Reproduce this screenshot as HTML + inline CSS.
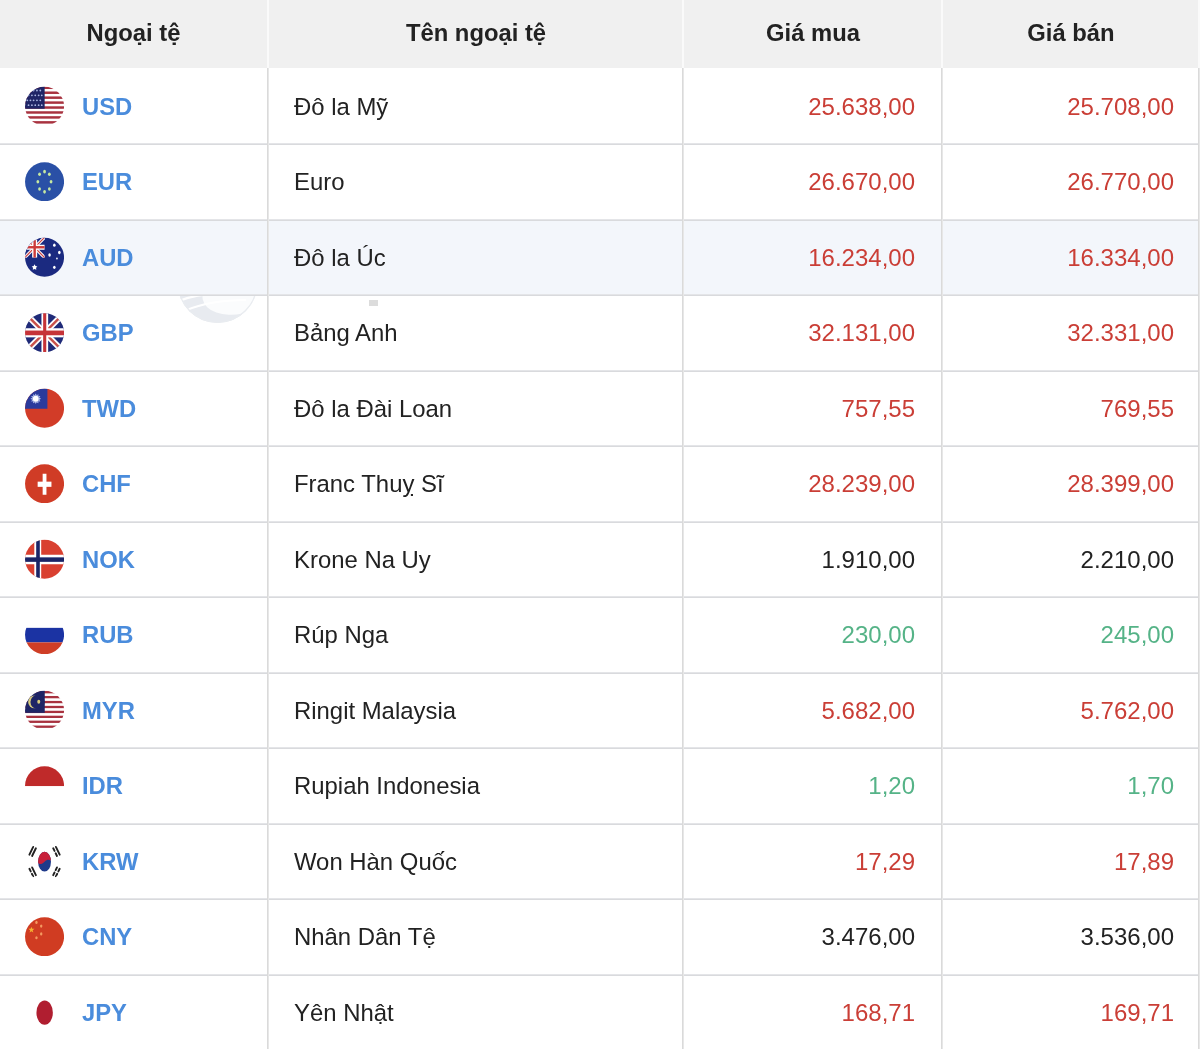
<!DOCTYPE html><html><head><meta charset="utf-8"><style>
*{margin:0;padding:0;box-sizing:border-box}
.wc{will-change:transform}
html,body{width:1200px;height:1049px;overflow:hidden;background:#fff;font-family:"Liberation Sans",sans-serif}
.hd{position:absolute;left:0;top:0;width:1200px;height:68px;background:#f0f0f0}
.ht{position:absolute;top:-1px;height:68px;line-height:68px;text-align:center;font-weight:bold;font-size:23.8px;color:#222}
.row{position:absolute;left:0;width:1200px}
.vl{position:absolute;width:2px;background:linear-gradient(90deg,#dadada 0,#dadada 50%,#e7e7e7 50%,#e7e7e7 100%)}
.vh{position:absolute;width:2px;background:#fafafa;top:0;height:68px}
.hl{position:absolute;left:0;width:1198px;height:2px;background:linear-gradient(#e4e5e8 0,#e4e5e8 50%,#d9dadd 50%,#d9dadd 100%)}
.code{position:absolute;left:82px;font-weight:bold;font-size:23.8px;color:#4a8cdc;white-space:nowrap}
.name{position:absolute;left:294px;font-size:23.9px;color:#222;white-space:nowrap}
.p1{position:absolute;right:285px;font-size:24px;white-space:nowrap}
.p2{position:absolute;right:26px;font-size:24px;white-space:nowrap}
.r{color:#ca3e36}.k{color:#222}.g{color:#55b387}
.flag{position:absolute;left:24px;width:40px;height:40px}
</style></head><body>
<div class="wc" style="position:absolute;left:0;top:0;width:1200px;height:1049px">
<div class="hd"></div>
<div class="ht" style="left:0px;width:267px">Ngoại tệ</div>
<div class="ht" style="left:269px;width:414px">Tên ngoại tệ</div>
<div class="ht" style="left:685px;width:256px">Giá mua</div>
<div class="ht" style="left:943px;width:256px">Giá bán</div>
<svg style="position:absolute;left:170px;top:240px" width="100" height="90" viewBox="170 240 100 90"><defs><clipPath id="wm"><circle cx="217.5" cy="283" r="40"/></clipPath></defs><g clip-path="url(#wm)"><rect x="170" y="240" width="100" height="90" fill="#e8ebf0"/><ellipse cx="238" cy="292" rx="36" ry="22" fill="#fbfcfd" transform="rotate(-12 238 292)"/><path d="M176,302 Q200,292 232,294" stroke="#fff" stroke-width="2.2" fill="none"/><path d="M184,311 Q210,300 246,300" stroke="#fff" stroke-width="2.2" fill="none"/></g><circle cx="217.5" cy="283" r="39.3" fill="none" stroke="#e9ecf0" stroke-width="1.2"/></svg>
<div style="position:absolute;left:369px;top:300px;width:8.5px;height:5.5px;background:#dcdcdc"></div>
<div class="row" style="top:219.5px;height:75.5px;background:#f3f6fb"></div>
<div class="flag" style="top:86px"><svg width="40" height="40" viewBox="-0.55 -0.25 40 40"><defs><clipPath id="us"><circle cx="20" cy="20" r="19.5"/></clipPath></defs><g clip-path="url(#us)"><rect width="40" height="40" fill="#fff"/><rect x="0" y="0.30" width="40" height="2.47" fill="#a8323f"/><rect x="0" y="5.24" width="40" height="2.47" fill="#a8323f"/><rect x="0" y="10.18" width="40" height="2.47" fill="#a8323f"/><rect x="0" y="15.12" width="40" height="2.47" fill="#a8323f"/><rect x="0" y="20.06" width="40" height="2.47" fill="#a8323f"/><rect x="0" y="25.00" width="40" height="2.47" fill="#a8323f"/><rect x="0" y="29.94" width="40" height="2.47" fill="#a8323f"/><rect x="0" y="34.88" width="40" height="2.47" fill="#a8323f"/><rect x="0" y="0" width="20.1" height="22.5" fill="#1f2566"/><circle cx="2.75" cy="4.25" r="0.9" fill="#a9b4e0"/><circle cx="5.9" cy="4.25" r="0.9" fill="#a9b4e0"/><circle cx="9.04" cy="4.25" r="0.9" fill="#a9b4e0"/><circle cx="12.4" cy="4.25" r="0.9" fill="#a9b4e0"/><circle cx="15.75" cy="4.25" r="0.9" fill="#a9b4e0"/><circle cx="2.75" cy="14.1" r="0.9" fill="#a9b4e0"/><circle cx="5.9" cy="14.1" r="0.9" fill="#a9b4e0"/><circle cx="9.04" cy="14.1" r="0.9" fill="#a9b4e0"/><circle cx="12.4" cy="14.1" r="0.9" fill="#a9b4e0"/><circle cx="15.75" cy="14.1" r="0.9" fill="#a9b4e0"/><circle cx="4.0" cy="9.05" r="0.9" fill="#a9b4e0"/><circle cx="7.36" cy="9.05" r="0.9" fill="#a9b4e0"/><circle cx="10.7" cy="9.05" r="0.9" fill="#a9b4e0"/><circle cx="14.1" cy="9.05" r="0.9" fill="#a9b4e0"/><circle cx="17.2" cy="9.05" r="0.9" fill="#a9b4e0"/><circle cx="4.0" cy="18.95" r="0.9" fill="#a9b4e0"/><circle cx="7.36" cy="18.95" r="0.9" fill="#a9b4e0"/><circle cx="10.7" cy="18.95" r="0.9" fill="#a9b4e0"/><circle cx="14.1" cy="18.95" r="0.9" fill="#a9b4e0"/><circle cx="17.2" cy="18.95" r="0.9" fill="#a9b4e0"/></g></svg></div>
<div class="code" style="top:92.75px">USD</div>
<div class="name" style="top:92.75px">Đô la Mỹ</div>
<div class="p1 r" style="top:92.75px">25.638,00</div>
<div class="p2 r" style="top:92.75px">25.708,00</div>
<div class="flag" style="top:161px"><svg width="40" height="40" viewBox="-0.55 -0.75 40 40"><defs><clipPath id="eu"><circle cx="20" cy="20" r="19.5"/></clipPath></defs><g clip-path="url(#eu)"><rect width="40" height="40" fill="#2a50a6"/><ellipse cx="20" cy="9.9" rx="1.4" ry="1.8" fill="#c6e8a0"/><ellipse cx="20" cy="30.1" rx="1.4" ry="1.8" fill="#c6e8a0"/><ellipse cx="13.3" cy="20" rx="1.4" ry="1.8" fill="#c6e8a0"/><ellipse cx="26.5" cy="20" rx="1.4" ry="1.8" fill="#c6e8a0"/><ellipse cx="15" cy="12.5" rx="1.4" ry="1.8" fill="#c6e8a0"/><ellipse cx="24.8" cy="12.5" rx="1.4" ry="1.8" fill="#c6e8a0"/><ellipse cx="15" cy="27.3" rx="1.4" ry="1.8" fill="#c6e8a0"/><ellipse cx="24.8" cy="27.3" rx="1.4" ry="1.8" fill="#c6e8a0"/></g></svg></div>
<div class="code" style="top:168.25px">EUR</div>
<div class="name" style="top:168.25px">Euro</div>
<div class="p1 r" style="top:168.25px">26.670,00</div>
<div class="p2 r" style="top:168.25px">26.770,00</div>
<div class="flag" style="top:237px"><svg width="40" height="40" viewBox="-0.55 -0.25 40 40"><defs><clipPath id="au"><circle cx="20" cy="20" r="19.5"/></clipPath></defs><g clip-path="url(#au)"><rect width="40" height="40" fill="#1b2a80"/><svg x="0" y="0" width="20.2" height="20.5" viewBox="0 0 20.2 20.5"><rect width="20.2" height="20.5" fill="#1b2a80"/><line x1="0" y1="0" x2="20.2" y2="20.5" stroke="#fff" stroke-width="3.2"/><line x1="20.2" y1="0" x2="0" y2="20.5" stroke="#fff" stroke-width="3.2"/><line x1="0" y1="0" x2="20.2" y2="20.5" stroke="#cc4040" stroke-width="1.2"/><line x1="20.2" y1="0" x2="0" y2="20.5" stroke="#cc4040" stroke-width="1.2"/><rect x="7.6" y="0" width="5" height="20.5" fill="#fff"/><rect x="0" y="7.5" width="20.2" height="5" fill="#fff"/><rect x="8.9" y="0" width="2.4" height="20.5" fill="#cc3a3a"/><rect x="0" y="8.8" width="20.2" height="2.4" fill="#cc3a3a"/></svg><polygon points="10.00,27.10 10.94,28.81 12.85,29.17 11.52,30.59 11.76,32.53 10.00,31.70 8.24,32.53 8.48,30.59 7.15,29.17 9.06,28.81" fill="#fff"/><ellipse cx="29.8" cy="7.9" rx="1.26" ry="1.68" fill="#fff"/><ellipse cx="34.8" cy="15.3" rx="1.26" ry="1.68" fill="#fff"/><ellipse cx="25" cy="17.7" rx="1.26" ry="1.68" fill="#fff"/><ellipse cx="32.4" cy="21.25" rx="0.81" ry="1.08" fill="#fff"/><ellipse cx="29.8" cy="30.1" rx="1.26" ry="1.68" fill="#fff"/></g></svg></div>
<div class="code" style="top:243.75px">AUD</div>
<div class="name" style="top:243.75px">Đô la Úc</div>
<div class="p1 r" style="top:243.75px">16.234,00</div>
<div class="p2 r" style="top:243.75px">16.334,00</div>
<div class="flag" style="top:312px"><svg width="40" height="40" viewBox="-0.55 -0.75 40 40"><defs><clipPath id="gb"><circle cx="20" cy="20" r="19.5"/></clipPath></defs><g clip-path="url(#gb)"><rect width="40" height="40" fill="#1f2a78"/><line x1="0" y1="0" x2="40" y2="40" stroke="#fff" stroke-width="6"/><line x1="40" y1="0" x2="0" y2="40" stroke="#fff" stroke-width="6"/><line x1="0" y1="0" x2="40" y2="40" stroke="#c8504a" stroke-width="2.4"/><line x1="40" y1="0" x2="0" y2="40" stroke="#c8504a" stroke-width="2.4"/><rect x="16.9" y="0" width="6.7" height="40" fill="#fff"/><rect x="0" y="15.5" width="40" height="9.1" fill="#fff"/><rect x="18.6" y="0" width="3.1" height="40" fill="#c63338"/><rect x="0" y="17.8" width="40" height="4.7" fill="#c63338"/></g></svg></div>
<div class="code" style="top:319.25px">GBP</div>
<div class="name" style="top:319.25px">Bảng Anh</div>
<div class="p1 r" style="top:319.25px">32.131,00</div>
<div class="p2 r" style="top:319.25px">32.331,00</div>
<div class="flag" style="top:388px"><svg width="40" height="40" viewBox="-0.55 -0.25 40 40"><defs><clipPath id="tw"><circle cx="20" cy="20" r="19.5"/></clipPath></defs><g clip-path="url(#tw)"><rect width="40" height="40" fill="#d23c28"/><rect width="22.85" height="20.5" fill="#2a3a9c"/><polygon points="11.20,5.20 12.13,7.02 13.85,5.91 13.75,7.95 15.79,7.85 14.68,9.57 16.50,10.50 14.68,11.43 15.79,13.15 13.75,13.05 13.85,15.09 12.13,13.98 11.20,15.80 10.27,13.98 8.55,15.09 8.65,13.05 6.61,13.15 7.72,11.43 5.90,10.50 7.72,9.57 6.61,7.85 8.65,7.95 8.55,5.91 10.27,7.02" fill="#b8c4ee"/><circle cx="11.2" cy="10.5" r="3.4" fill="#8090d0"/><circle cx="11.2" cy="10.5" r="2.9" fill="#fff"/></g></svg></div>
<div class="code" style="top:394.75px">TWD</div>
<div class="name" style="top:394.75px">Đô la Đài Loan</div>
<div class="p1 r" style="top:394.75px">757,55</div>
<div class="p2 r" style="top:394.75px">769,55</div>
<div class="flag" style="top:463px"><svg width="40" height="40" viewBox="-0.55 -0.75 40 40"><defs><clipPath id="ch"><circle cx="20" cy="20" r="19.5"/></clipPath></defs><g clip-path="url(#ch)"><rect width="40" height="40" fill="#d03c26"/><rect x="18.1" y="10" width="3.8" height="21" fill="#fff"/><rect x="13.1" y="17.9" width="13.8" height="5.2" fill="#fff"/></g></svg></div>
<div class="code" style="top:470.25px">CHF</div>
<div class="name" style="top:470.25px">Franc Thuỵ Sĩ</div>
<div class="p1 r" style="top:470.25px">28.239,00</div>
<div class="p2 r" style="top:470.25px">28.399,00</div>
<div class="flag" style="top:539px"><svg width="40" height="40" viewBox="-0.55 -0.25 40 40"><defs><clipPath id="no"><circle cx="20" cy="20" r="19.5"/></clipPath></defs><g clip-path="url(#no)"><rect width="40" height="40" fill="#d94030"/><rect x="9.75" y="0" width="6.9" height="40" fill="#fff"/><rect x="0" y="15.5" width="40" height="9.5" fill="#fff"/><rect x="11.65" y="0" width="3.6" height="40" fill="#1a2466"/><rect x="0" y="18.1" width="40" height="4.5" fill="#1a2466"/></g></svg></div>
<div class="code" style="top:545.75px">NOK</div>
<div class="name" style="top:545.75px">Krone Na Uy</div>
<div class="p1 k" style="top:545.75px">1.910,00</div>
<div class="p2 k" style="top:545.75px">2.210,00</div>
<div class="flag" style="top:614px"><svg width="40" height="40" viewBox="-0.55 -0.75 40 40"><defs><clipPath id="ru"><circle cx="20" cy="20" r="19.5"/></clipPath></defs><g clip-path="url(#ru)"><rect width="40" height="40" fill="#fff"/><rect y="13.1" width="40" height="14.55" fill="#1b33a3"/><rect y="27.65" width="40" height="12.35" fill="#cf3e26"/></g></svg></div>
<div class="code" style="top:621.25px">RUB</div>
<div class="name" style="top:621.25px">Rúp Nga</div>
<div class="p1 g" style="top:621.25px">230,00</div>
<div class="p2 g" style="top:621.25px">245,00</div>
<div class="flag" style="top:690px"><svg width="40" height="40" viewBox="-0.55 -0.25 40 40"><defs><clipPath id="my"><circle cx="20" cy="20" r="19.5"/></clipPath></defs><g clip-path="url(#my)"><rect width="40" height="40" fill="#fff"/><rect x="0" y="0.80" width="40" height="2.3" fill="#a8323f"/><rect x="0" y="5.73" width="40" height="2.3" fill="#a8323f"/><rect x="0" y="10.66" width="40" height="2.3" fill="#a8323f"/><rect x="0" y="15.59" width="40" height="2.3" fill="#a8323f"/><rect x="0" y="20.52" width="40" height="2.3" fill="#a8323f"/><rect x="0" y="25.45" width="40" height="2.3" fill="#a8323f"/><rect x="0" y="30.38" width="40" height="2.3" fill="#a8323f"/><rect x="0" y="35.31" width="40" height="2.3" fill="#a8323f"/><rect x="0" y="0" width="20.2" height="22.6" fill="#1f2566"/><circle cx="10" cy="11.65" r="6.45" fill="#d8cc80"/><circle cx="13.0" cy="11.65" r="7.1" fill="#1f2566"/><ellipse cx="14.2" cy="11.4" rx="1.5" ry="2" fill="#d8cc80"/></g></svg></div>
<div class="code" style="top:696.75px">MYR</div>
<div class="name" style="top:696.75px">Ringit Malaysia</div>
<div class="p1 r" style="top:696.75px">5.682,00</div>
<div class="p2 r" style="top:696.75px">5.762,00</div>
<div class="flag" style="top:765px"><svg width="40" height="40" viewBox="-0.55 -0.75 40 40"><defs><clipPath id="id"><circle cx="20" cy="20" r="19.5"/></clipPath></defs><g clip-path="url(#id)"><rect width="40" height="20.3" fill="#bf2a2a"/></g></svg></div>
<div class="code" style="top:772.25px">IDR</div>
<div class="name" style="top:772.25px">Rupiah Indonesia</div>
<div class="p1 g" style="top:772.25px">1,20</div>
<div class="p2 g" style="top:772.25px">1,70</div>
<div class="flag" style="top:841px"><svg width="40" height="40" viewBox="-0.55 -0.25 40 40"><defs><clipPath id="kr"><circle cx="20" cy="20" r="19.5"/></clipPath></defs><g clip-path="url(#kr)"><rect width="40" height="40" fill="#fff"/><defs><clipPath id="krc"><ellipse cx="20" cy="20.4" rx="6.45" ry="9.9"/></clipPath></defs><g clip-path="url(#krc)"><rect width="40" height="40" fill="#1f3a8a"/><path d="M13,21.4 C15,23.6 17.5,22.8 20,20.4 C22.5,18 25,18.2 27.5,19.8 L27.5,8 L13,8 Z" fill="#c8203a"/></g><g transform="translate(8.1 10.2) rotate(-64)"><line x1="-4.3" y1="-1.5" x2="4.3" y2="-1.5" stroke="#222" stroke-width="1.9" stroke-linecap="round"/><line x1="-4.3" y1="1.5" x2="4.3" y2="1.5" stroke="#222" stroke-width="1.9" stroke-linecap="round"/></g><g transform="translate(31.9 10.2) rotate(64)"><line x1="-4.3" y1="-1.5" x2="4.3" y2="-1.5" stroke="#222" stroke-width="1.9" stroke-linecap="round"/><line x1="-4.3" y1="1.5" x2="-1.3" y2="1.5" stroke="#222" stroke-width="1.9" stroke-linecap="round"/><line x1="1.3" y1="1.5" x2="4.3" y2="1.5" stroke="#222" stroke-width="1.9" stroke-linecap="round"/></g><g transform="translate(8.1 30.7) rotate(64)"><line x1="-4.3" y1="-1.5" x2="4.3" y2="-1.5" stroke="#222" stroke-width="1.9" stroke-linecap="round"/><line x1="-4.3" y1="1.5" x2="-1.3" y2="1.5" stroke="#222" stroke-width="1.9" stroke-linecap="round"/><line x1="1.3" y1="1.5" x2="4.3" y2="1.5" stroke="#222" stroke-width="1.9" stroke-linecap="round"/></g><g transform="translate(31.9 30.7) rotate(-64)"><line x1="-4.3" y1="-1.5" x2="-1.3" y2="-1.5" stroke="#222" stroke-width="1.9" stroke-linecap="round"/><line x1="1.3" y1="-1.5" x2="4.3" y2="-1.5" stroke="#222" stroke-width="1.9" stroke-linecap="round"/><line x1="-4.3" y1="1.5" x2="-1.3" y2="1.5" stroke="#222" stroke-width="1.9" stroke-linecap="round"/><line x1="1.3" y1="1.5" x2="4.3" y2="1.5" stroke="#222" stroke-width="1.9" stroke-linecap="round"/></g></g></svg></div>
<div class="code" style="top:847.75px">KRW</div>
<div class="name" style="top:847.75px">Won Hàn Quốc</div>
<div class="p1 r" style="top:847.75px">17,29</div>
<div class="p2 r" style="top:847.75px">17,89</div>
<div class="flag" style="top:916px"><svg width="40" height="40" viewBox="-0.55 -0.75 40 40"><defs><clipPath id="cn"><circle cx="20" cy="20" r="19.5"/></clipPath></defs><g clip-path="url(#cn)"><rect width="40" height="40" fill="#d03c22"/><polygon points="6.90,9.90 7.66,12.05 9.94,12.11 8.14,13.50 8.78,15.69 6.90,14.40 5.02,15.69 5.66,13.50 3.86,12.11 6.14,12.05" fill="#f4b030"/><ellipse cx="11.9" cy="5.7" rx="1.2" ry="1.6" fill="#f49a60"/><ellipse cx="16.65" cy="9.3" rx="1.2" ry="1.6" fill="#f49a60"/><ellipse cx="16.65" cy="17.2" rx="1.2" ry="1.6" fill="#f49a60"/><ellipse cx="11.9" cy="21.0" rx="1.2" ry="1.6" fill="#f49a60"/></g></svg></div>
<div class="code" style="top:923.25px">CNY</div>
<div class="name" style="top:923.25px">Nhân Dân Tệ</div>
<div class="p1 k" style="top:923.25px">3.476,00</div>
<div class="p2 k" style="top:923.25px">3.536,00</div>
<div class="flag" style="top:992px"><svg width="40" height="40" viewBox="-0.55 -0.25 40 40"><defs><clipPath id="jp"><circle cx="20" cy="20" r="19.5"/></clipPath></defs><g clip-path="url(#jp)"><ellipse cx="20.1" cy="20.45" rx="8.2" ry="12.15" fill="#b01e30"/></g></svg></div>
<div class="code" style="top:998.75px">JPY</div>
<div class="name" style="top:998.75px">Yên Nhật</div>
<div class="p1 r" style="top:998.75px">168,71</div>
<div class="p2 r" style="top:998.75px">169,71</div>
<div class="hl" style="top:143.00px"></div>
<div class="hl" style="top:218.50px"></div>
<div class="hl" style="top:294.00px"></div>
<div class="hl" style="top:369.50px"></div>
<div class="hl" style="top:445.00px"></div>
<div class="hl" style="top:520.50px"></div>
<div class="hl" style="top:596.00px"></div>
<div class="hl" style="top:671.50px"></div>
<div class="hl" style="top:747.00px"></div>
<div class="hl" style="top:822.50px"></div>
<div class="hl" style="top:898.00px"></div>
<div class="hl" style="top:973.50px"></div>
<div class="vh" style="left:267px"></div>
<div class="vl" style="left:267px;top:68px;height:981px"></div>
<div class="vh" style="left:682.3px"></div>
<div class="vl" style="left:682.3px;top:68px;height:981px"></div>
<div class="vh" style="left:940.7px"></div>
<div class="vl" style="left:940.7px;top:68px;height:981px"></div>
<div class="vh" style="left:1198.4px"></div>
<div class="vl" style="left:1198.4px;top:68px;height:981px"></div>
</div></body></html>
